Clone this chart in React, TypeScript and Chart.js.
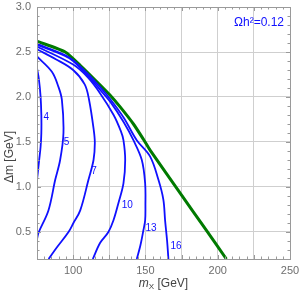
import React, { useEffect, useRef } from "react";
import { Chart, registerables } from "chart.js";
Chart.register(...registerables);

// ---- data (x = m_X [GeV], y = Δm [GeV]) ----
const relicGreen: number[][] = [
  [75, 2.62], [94.5, 2.5], [105, 2.35], [116.4, 2.17], [125.6, 2.02], [132.5, 1.89],
  [141.7, 1.7], [148.6, 1.53], [153.2, 1.41], [175, 0.91], [190, 0.567], [206, 0.2],
];
const curve4: number[][] = [
  [75, 2.32], [76.3, 2.2], [77.5, 2.0], [78, 1.8], [78, 1.6], [77.5, 1.45], [76.5, 1.3], [75.5, 1.15], [75, 1.08],
];
const curve5: number[][] = [
  [75, 2.45], [85.3, 2.28], [89.9, 2.11], [92.2, 1.97], [93.3, 1.6], [91, 1.3], [87.6, 1.08], [82.9, 0.74], [76, 0.49], [75, 0.42],
];
const curve7: number[][] = [
  [75, 2.53], [88, 2.42], [100, 2.3], [108, 2.14], [111, 1.97], [114.2, 1.64], [115, 1.49], [114.1, 1.3],
  [110.6, 1.08], [104.9, 0.74], [100.2, 0.6], [96.8, 0.5], [88.8, 0.33], [83, 0.2],
];
const curve10: number[][] = [
  [75, 2.56], [100, 2.36], [110, 2.22], [118.7, 2.04], [128, 1.8], [133, 1.62], [134.8, 1.52], [136, 1.3],
  [134.8, 1.04], [131.3, 0.82], [127.9, 0.63], [124.4, 0.5], [118.7, 0.38], [113.6, 0.2],
];
const curve13: number[][] = [
  [75, 2.58], [94, 2.46], [100, 2.4], [110, 2.24], [118.7, 2.08], [126, 1.94], [135, 1.72], [141.7, 1.52],
  [147.5, 1.3], [149.8, 1.04], [150, 0.8], [149.8, 0.63], [148.6, 0.52], [146.5, 0.35], [144, 0.2],
];
const curve16: number[][] = [
  [75, 2.59], [94, 2.47], [100, 2.41], [110, 2.26], [118.7, 2.11], [126, 1.97], [135, 1.77], [144, 1.52],
  [153.2, 1.34], [159, 1.08], [162.4, 0.86], [163.6, 0.63], [165, 0.4], [165.9, 0.2],
];
const contourLabels = ["4", "5", "7", "10", "13", "16"];
const contourLabelX = [81.4, 95.5, 114.4, 137.4, 153.9, 171.2];
const contourLabelY = [1.77, 1.5, 1.18, 0.8, 0.54, 0.34];

const xTicks = [100, 125, 150, 175, 200, 225, 250];
const xTickLabels = ["100", "", "150", "", "200", "", "250"];
const yTicks = [0.5, 1.0, 1.5, 2.0, 2.5, 3.0];
const yTickLabels = ["0.5", "1.0", "1.5", "2.0", "2.5", "3.0"];

const X_MIN = 75, X_MAX = 250, Y_MIN = 0.2, Y_MAX = 3.0;
const BLUE = "#1010ff";
const GREEN = "#007a00";
const FONT = "'Liberation Sans', Arial, sans-serif";

const toPts = (a: number[][]) => a.map(([x, y]) => ({ x, y }));

const decorPlugin = {
  id: "decor",
  afterDraw(chart: any) {
    const { ctx, chartArea: ca, scales } = chart;
    const xs = scales.x, ys = scales.y;
    ctx.save();
    // frame
    ctx.strokeStyle = "#9a9a9a";
    ctx.lineWidth = 1;
    ctx.strokeRect(Math.round(ca.left) + 0.5, Math.round(ca.top) + 0.5, Math.round(ca.right - ca.left), Math.round(ca.bottom - ca.top));
    // minor/major ticks on all sides
    ctx.beginPath();
    for (let v = X_MIN; v <= X_MAX + 0.001; v += 5) {
      const px = Math.round(xs.getPixelForValue(v)) + 0.5;
      const len = Math.abs((v % 25)) < 0.001 ? 4 : 2.5;
      ctx.moveTo(px, ca.bottom); ctx.lineTo(px, ca.bottom - len);
      ctx.moveTo(px, ca.top); ctx.lineTo(px, ca.top + len);
    }
    for (let i = 2; i <= 30; i++) {
      const v = i / 10;
      const py = Math.round(ys.getPixelForValue(v)) + 0.5;
      const len = i % 5 === 0 ? 4 : 2.5;
      ctx.moveTo(ca.left, py); ctx.lineTo(ca.left + len, py);
      ctx.moveTo(ca.right, py); ctx.lineTo(ca.right - len, py);
    }
    ctx.stroke();

    // contour labels
    ctx.fillStyle = BLUE;
    ctx.font = `10px ${FONT}`;
    ctx.textAlign = "center";
    ctx.textBaseline = "middle";
    contourLabels.forEach((t, i) => {
      ctx.fillText(t, xs.getPixelForValue(contourLabelX[i]), ys.getPixelForValue(contourLabelY[i]));
    });

    // Omega h^2 annotation
    ctx.font = `12px ${FONT}`;
    ctx.textAlign = "right";
    ctx.fillText("Ωh²=0.12", ca.right - 6, ca.top + 16);

    // axis titles
    ctx.fillStyle = "#444";
    ctx.textBaseline = "middle";
    ctx.save();
    ctx.translate(10, 157);
    ctx.rotate(-Math.PI / 2);
    ctx.textAlign = "center";
    ctx.font = `12px ${FONT}`;
    ctx.fillText("Δm [GeV]", 0, 0);
    ctx.restore();

    // x title: m_X [GeV]
    const cx = (ca.left + ca.right) / 2;
    const y0 = 284;
    ctx.textAlign = "left";
    const fMain = `12px ${FONT}`;
    const fIt = `italic 12px ${FONT}`;
    const fSub = `8px ${FONT}`;
    ctx.font = fIt; const wm = ctx.measureText("m").width;
    ctx.font = fSub; const wx = ctx.measureText("X").width;
    ctx.font = fMain; const wr = ctx.measureText(" [GeV]").width;
    let sx = cx - (wm + wx + wr) / 2;
    ctx.font = fIt; ctx.fillText("m", sx, y0); sx += wm;
    ctx.font = fSub; ctx.fillText("X", sx, y0 + 3); sx += wx;
    ctx.font = fMain; ctx.fillText(" [GeV]", sx, y0);
    ctx.restore();
  },
};

export default function App() {
  const ref = useRef<HTMLCanvasElement | null>(null);
  useEffect(() => {
    if (!ref.current) return;
    const blueSet = (d: number[][]) => ({
      data: toPts(d),
      borderColor: BLUE,
      borderWidth: 1.8,
      pointRadius: 0,
      tension: 0.35,
      fill: false,
    });
    const chart = new Chart(ref.current, {
      type: "line",
      data: {
        datasets: [
          blueSet(curve4), blueSet(curve5), blueSet(curve7), blueSet(curve10), blueSet(curve13), blueSet(curve16),
          { data: toPts(relicGreen), borderColor: GREEN, borderWidth: 3, pointRadius: 0, tension: 0.2, fill: false },
        ],
      },
      options: {
        animation: false,
        responsive: false,
        maintainAspectRatio: false,
        layout: { padding: { left: 0, right: 10, top: 7, bottom: 0 } },
        plugins: { legend: { display: false }, tooltip: { enabled: false } },
        scales: {
          x: {
            type: "linear",
            min: X_MIN, max: X_MAX,
            afterBuildTicks: (s: any) => { s.ticks = xTicks.map((v) => ({ value: v })); },
            afterFit: (s: any) => { s.height = 38; s.paddingRight = 0; s.paddingLeft = 0; },
            grid: { color: "#cfcfcf", lineWidth: 1, drawTicks: false },
            border: { display: false },
            ticks: {
              color: "#6e6e6e", font: { family: FONT, size: 11 }, padding: 5, maxRotation: 0, autoSkip: false,
              callback: (_v: any, i: number) => xTickLabels[i],
            },
          },
          y: {
            type: "linear",
            min: Y_MIN, max: Y_MAX,
            afterBuildTicks: (s: any) => { s.ticks = yTicks.map((v) => ({ value: v })); },
            afterFit: (s: any) => { s.width = 37; s.paddingTop = 0; s.paddingBottom = 0; },
            grid: { color: "#cfcfcf", lineWidth: 1, drawTicks: false },
            border: { display: false },
            ticks: {
              color: "#6e6e6e", font: { family: FONT, size: 11 }, padding: 6, autoSkip: false,
              callback: (_v: any, i: number) => yTickLabels[i],
            },
          },
        },
      },
      plugins: [decorPlugin],
    } as any);
    return () => chart.destroy();
  }, []);
  return (
    <div style={{ position: "fixed", left: 0, top: 0, width: 300, height: 297, background: "#fff" }}>
      <canvas ref={ref} width={300} height={297} style={{ width: 300, height: 297 }} />
    </div>
  );
}
